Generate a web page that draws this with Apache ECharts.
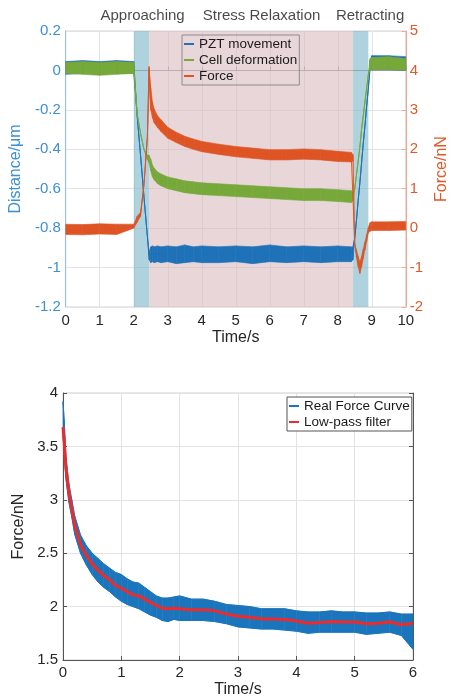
<!DOCTYPE html>
<html><head><meta charset="utf-8">
<script src="https://cdn.jsdelivr.net/npm/echarts@6/dist/echarts.min.js"></script>
<style>html,body{margin:0;padding:0;background:#fff}#c{width:458px;height:699px}</style>
</head><body><div id="c"></div>
<script>
// ---------- Top chart data ----------
const topTime = [0,0.5,1,1.5,2,2.1,2.2,2.3,2.4,2.45,2.5,2.55,2.6,2.7,2.8,3,3.25,3.5,3.75,4,4.5,5,5.5,6,6.5,7,7.5,8,8.4,8.45,8.5,8.55,8.6,8.65,8.7,8.75,8.8,8.85,8.9,8.95,9,9.5,10];
const pztMean = [0.015,0.02,0.015,0.02,0.02,-0.23,-0.43,-0.64,-0.84,-0.94,-0.93,-0.93,-0.93,-0.93,-0.935,-0.93,-0.935,-0.93,-0.935,-0.93,-0.935,-0.93,-0.935,-0.93,-0.935,-0.93,-0.93,-0.935,-0.93,-0.93,-0.85,-0.76,-0.66,-0.57,-0.47,-0.37,-0.28,-0.18,-0.09,0.02,0.04,0.04,0.035];
const pztLow  = [-0.02,-0.015,-0.02,-0.015,-0.015,-0.23,-0.43,-0.64,-0.84,-0.96,-0.975,-0.97,-0.975,-0.97,-0.975,-0.97,-0.98,-0.975,-0.97,-0.975,-0.975,-0.97,-0.98,-0.97,-0.975,-0.97,-0.975,-0.97,-0.97,-0.96,-0.85,-0.76,-0.66,-0.57,-0.47,-0.37,-0.28,-0.18,-0.09,0.0,0.005,0.005,0.0];
const pztHigh = [0.045,0.05,0.045,0.05,0.045,-0.23,-0.43,-0.64,-0.84,-0.92,-0.895,-0.89,-0.895,-0.89,-0.895,-0.89,-0.895,-0.885,-0.895,-0.89,-0.895,-0.89,-0.895,-0.885,-0.895,-0.89,-0.895,-0.89,-0.895,-0.9,-0.85,-0.76,-0.66,-0.57,-0.47,-0.37,-0.28,-0.18,-0.09,0.05,0.075,0.075,0.07];
const cellMean = [0.015,0.015,0.01,0.015,0.015,-0.22,-0.32,-0.4,-0.44,-0.45,-0.48,-0.51,-0.525,-0.545,-0.555,-0.57,-0.58,-0.59,-0.595,-0.6,-0.605,-0.61,-0.615,-0.62,-0.625,-0.63,-0.63,-0.635,-0.64,-0.64,-0.6,-0.53,-0.46,-0.39,-0.3,-0.23,-0.16,-0.09,-0.02,0.03,0.035,0.035,0.03];
const cellLow  = [-0.015,-0.02,-0.025,-0.02,-0.015,-0.22,-0.32,-0.4,-0.45,-0.47,-0.51,-0.54,-0.555,-0.575,-0.585,-0.6,-0.61,-0.62,-0.625,-0.63,-0.635,-0.64,-0.645,-0.65,-0.655,-0.66,-0.66,-0.665,-0.67,-0.66,-0.6,-0.53,-0.46,-0.39,-0.3,-0.23,-0.16,-0.09,-0.02,0.0,0.005,0.005,0.0];
const cellHigh = [0.04,0.045,0.04,0.045,0.04,-0.22,-0.32,-0.4,-0.43,-0.43,-0.45,-0.48,-0.495,-0.515,-0.525,-0.54,-0.55,-0.56,-0.565,-0.57,-0.575,-0.58,-0.585,-0.59,-0.595,-0.6,-0.6,-0.605,-0.61,-0.62,-0.6,-0.53,-0.46,-0.39,-0.3,-0.23,-0.16,-0.09,-0.02,0.06,0.065,0.07,0.06];
const forceMean = [-0.03,-0.04,-0.02,-0.03,0.05,0.22,0.35,1.1,2.3,4.05,3.3,3.0,2.85,2.7,2.6,2.42,2.3,2.2,2.13,2.07,2.0,1.94,1.9,1.86,1.86,1.88,1.86,1.82,1.8,1.78,-0.4,-0.65,-0.85,-1.0,-0.85,-0.65,-0.45,-0.25,-0.05,0.03,0.05,0.05,0.06];
const forceLow  = [-0.16,-0.17,-0.15,-0.16,0.0,0.15,0.3,1.1,2.3,3.6,3.0,2.8,2.67,2.55,2.45,2.28,2.17,2.07,2.0,1.94,1.87,1.81,1.77,1.73,1.73,1.75,1.73,1.69,1.68,1.7,-0.4,-0.75,-0.98,-1.15,-0.98,-0.77,-0.55,-0.33,-0.12,-0.08,-0.06,-0.06,-0.05];
const forceHigh = [0.1,0.09,0.11,0.1,0.1,0.3,0.4,1.1,2.3,4.1,3.55,3.2,3.02,2.85,2.75,2.56,2.43,2.33,2.26,2.2,2.13,2.07,2.03,1.99,1.99,2.01,1.99,1.95,1.92,1.86,-0.4,-0.55,-0.72,-0.85,-0.72,-0.53,-0.35,-0.17,0.02,0.14,0.16,0.16,0.17];
const phaseNames = ['Approaching','Stress Relaxation','Retracting'];
const phaseStart = [2, 2.45, 8.45];
const phaseEnd   = [2.45, 8.45, 8.9];
const phaseLabelTime = [2.26, 5.76, 8.95];
const topLegend = ['PZT movement','Cell deformation','Force'];

// ---------- Bottom chart data ----------
const bottomTime = [0,0.02,0.05,0.1,0.15,0.2,0.3,0.4,0.5,0.6,0.7,0.8,0.9,1.0,1.1,1.2,1.3,1.4,1.5,1.6,1.7,1.8,1.9,2.0,2.2,2.4,2.6,2.8,3.0,3.2,3.4,3.6,3.8,4.0,4.2,4.4,4.6,4.8,5.0,5.2,5.4,5.6,5.8,6.0];
const filterForce = [3.68,3.55,3.3,3.07,2.92,2.76,2.58,2.48,2.4,2.34,2.29,2.25,2.2,2.17,2.14,2.11,2.1,2.07,2.04,2.01,1.985,1.98,1.985,1.98,1.97,1.97,1.96,1.93,1.91,1.9,1.885,1.885,1.88,1.865,1.845,1.85,1.86,1.855,1.855,1.84,1.845,1.855,1.83,1.845];
const realLow  = [3.6,3.45,3.2,2.98,2.84,2.68,2.5,2.39,2.3,2.23,2.18,2.14,2.09,2.05,2.02,2.0,1.98,1.95,1.92,1.9,1.87,1.86,1.88,1.87,1.87,1.87,1.86,1.84,1.81,1.8,1.79,1.79,1.78,1.77,1.75,1.76,1.76,1.76,1.76,1.74,1.75,1.76,1.73,1.6];
const realHigh = [3.92,3.75,3.4,3.15,3.0,2.85,2.67,2.57,2.5,2.45,2.4,2.36,2.32,2.3,2.26,2.23,2.22,2.18,2.14,2.1,2.08,2.08,2.09,2.1,2.07,2.07,2.05,2.02,2.01,2.0,1.98,1.98,1.98,1.96,1.95,1.95,1.96,1.95,1.95,1.94,1.94,1.95,1.93,1.93];
const bottomLegend = ['Real Force Curve','Low-pass filter'];

// ---------- helpers ----------
const FONT = '"Liberation Sans", Arial, Helvetica, sans-serif';
const C_PZT = '#1f72b8', C_CELL = '#77a83a', C_FORCE = '#de5424';
const C_REAL = '#1b75bc', C_FILT = '#ee2a2a';
const C_LEFT = '#3d8fd4', C_RIGHT = '#dd5a2a';
function pairs(t, v){ return t.map((x,i)=>[x, v[i]]); }
// noise envelope drawn as a filled band between low and high values
function band(t, lo, hi, color, xi, yi, z){
  return {
    type:'custom', xAxisIndex:xi, yAxisIndex:yi, z:z, silent:true,
    data:t.map((x,i)=>[x, lo[i], hi[i]]),
    encode:{x:0, y:[1,2]},
    renderItem:function(params, api){
      const i = params.dataIndexInside;
      if (i === 0) return null;
      const pts = [
        api.coord([api.value(0,i-1), api.value(1,i-1)]),
        api.coord([api.value(0,i),   api.value(1,i)]),
        api.coord([api.value(0,i),   api.value(2,i)]),
        api.coord([api.value(0,i-1), api.value(2,i-1)])
      ];
      return {type:'polygon', shape:{points:pts}, style:{fill:color, stroke:color, lineWidth:0.6}};
    }
  };
}
const phaseColors = ['rgba(120,182,202,0.6)','rgba(218,187,190,0.6)','rgba(120,182,202,0.6)'];
const markAreaData = phaseNames.map((n,i)=>[
  {xAxis:phaseStart[i], itemStyle:{color:phaseColors[i]}},
  {xAxis:phaseEnd[i]}
]);

const gridLine = {lineStyle:{color:'#e3e3e3', width:1}};
const series = [];
// top chart
series.push(band(topTime, pztLow, pztHigh, C_PZT, 0, 0, 3));
series.push({type:'line', name:topLegend[0], xAxisIndex:0, yAxisIndex:0, data:pairs(topTime,pztMean), symbol:'none',
  lineStyle:{color:C_PZT,width:1}, itemStyle:{color:C_PZT}, z:3,
  markArea:{silent:true, label:{show:false}, data:markAreaData}});
series.push(band(topTime, cellLow, cellHigh, C_CELL, 0, 0, 4));
series.push({type:'line', name:topLegend[1], xAxisIndex:0, yAxisIndex:0, data:pairs(topTime,cellMean), symbol:'none',
  lineStyle:{color:C_CELL,width:1}, itemStyle:{color:C_CELL}, z:4});
series.push(band(topTime, forceLow, forceHigh, C_FORCE, 0, 1, 5));
series.push({type:'line', name:topLegend[2], xAxisIndex:0, yAxisIndex:1, data:pairs(topTime,forceMean), symbol:'none',
  lineStyle:{color:C_FORCE,width:1}, itemStyle:{color:C_FORCE}, z:5});
// phase titles above the plot
series.push({type:'scatter', xAxisIndex:0, yAxisIndex:0, symbol:'circle', symbolSize:1, silent:true, clip:false, z:6,
  itemStyle:{color:'rgba(0,0,0,0)'},
  data:phaseNames.map((n,i)=>({name:n, value:[phaseLabelTime[i], 0.2]})),
  label:{show:true, position:'top', distance:7, formatter:'{b}', fontSize:15, color:'#1a1a1a', fontFamily:FONT}});
// bottom chart
series.push(band(bottomTime, realLow, realHigh, C_REAL, 1, 2, 3));
series.push({type:'line', name:bottomLegend[0], xAxisIndex:1, yAxisIndex:2, data:pairs(bottomTime,realHigh), symbol:'none',
  lineStyle:{color:C_REAL,width:1}, itemStyle:{color:C_REAL}, z:3});
series.push({type:'line', name:bottomLegend[0], xAxisIndex:1, yAxisIndex:2, data:pairs(bottomTime,realLow), symbol:'none',
  lineStyle:{color:C_REAL,width:1}, itemStyle:{color:C_REAL}, z:3});
series.push({type:'line', name:bottomLegend[1], xAxisIndex:1, yAxisIndex:2, data:pairs(bottomTime,filterForce), symbol:'none',
  lineStyle:{color:C_FILT,width:3}, itemStyle:{color:C_FILT}, z:6});

const option = {
  animation:false,
  backgroundColor:'#fff',
  textStyle:{fontFamily:FONT},
  grid:[
    {left:63, right:41, top:31, height:276, show:true, borderColor:'#d5d5d5', borderWidth:1, backgroundColor:'transparent'},
    {left:63, right:45, top:393, height:269, show:true, borderColor:'#cfcfcf', borderWidth:1, backgroundColor:'transparent'}
  ],
  xAxis:[
    {gridIndex:0, type:'value', min:0, max:10, interval:1, name:'Time/s', nameLocation:'middle', nameGap:23,
     nameTextStyle:{fontSize:16, color:'#262626', fontFamily:FONT},
     axisLine:{lineStyle:{color:'#9a9a9a'}}, axisTick:{inside:true, length:4, lineStyle:{color:'#9a9a9a'}},
     axisLabel:{fontSize:15, color:'#262626', margin:6, fontFamily:FONT}, splitLine:gridLine},
    {gridIndex:1, type:'value', min:0, max:6, interval:1, name:'Time/s', nameLocation:'middle', nameGap:22,
     nameTextStyle:{fontSize:16, color:'#262626', fontFamily:FONT},
     axisLine:{lineStyle:{color:'#555'}}, axisTick:{inside:true, length:4, lineStyle:{color:'#555'}},
     axisLabel:{fontSize:15, color:'#262626', margin:5, fontFamily:FONT}, splitLine:gridLine}
  ],
  yAxis:[
    {gridIndex:0, type:'value', position:'left', min:-1.2, max:0.2, interval:0.2, name:'Distance/μm', nameLocation:'middle', nameGap:35, nameRotate:90,
     nameTextStyle:{fontSize:16, color:C_LEFT, fontFamily:FONT},
     axisLine:{show:true, lineStyle:{color:'#8fc0e8'}}, axisTick:{show:false},
     axisLabel:{fontSize:15, color:C_LEFT, margin:5, fontFamily:FONT}, splitLine:gridLine},
    {gridIndex:0, type:'value', position:'right', min:-2, max:5, interval:1, name:'Force/nN', nameLocation:'middle', nameGap:22, nameRotate:90,
     nameTextStyle:{fontSize:16, color:C_RIGHT, fontFamily:FONT},
     axisLine:{show:true, lineStyle:{color:'#eba88c'}}, axisTick:{show:true, inside:true, length:4, lineStyle:{color:'#eba88c'}},
     axisLabel:{fontSize:15, color:C_RIGHT, margin:4, fontFamily:FONT}, splitLine:{show:false}},
    {gridIndex:1, type:'value', position:'left', min:1.5, max:4, interval:0.5, name:'Force/nN', nameLocation:'middle', nameGap:27, nameRotate:90,
     nameTextStyle:{fontSize:16, color:'#262626', fontFamily:FONT},
     axisLine:{show:true, lineStyle:{color:'#555'}}, axisTick:{show:true, inside:true, length:4, lineStyle:{color:'#555'}},
     axisLabel:{fontSize:15, color:'#262626', margin:5, fontFamily:FONT}, splitLine:gridLine},
    {gridIndex:1, type:'value', position:'right', min:1.5, max:4, interval:0.5,
     axisLine:{show:true, lineStyle:{color:'#555'}}, axisTick:{show:true, inside:true, length:4, lineStyle:{color:'#555'}},
     axisLabel:{show:false}, splitLine:{show:false}}
  ],
  legend:[
    {data:topLegend, orient:'vertical', left:182, top:35, padding:[1,2,1,1], itemGap:0, itemWidth:10, itemHeight:14,
     borderColor:'#8c8c8c', borderWidth:1, backgroundColor:'transparent', selectedMode:false,
     itemStyle:{opacity:0}, textStyle:{fontSize:13.5, color:'#1a1a1a', lineHeight:16, fontFamily:FONT}},
    {data:bottomLegend, orient:'vertical', left:287, top:397, padding:[1,2,1,1], itemGap:0, itemWidth:10, itemHeight:14,
     borderColor:'#555', borderWidth:1, backgroundColor:'#fff', selectedMode:false,
     itemStyle:{opacity:0}, textStyle:{fontSize:13.5, color:'#1a1a1a', lineHeight:16, fontFamily:FONT}}
  ],
  series:series
};
const chart = echarts.init(document.getElementById('c'), null, {renderer:'canvas'});
chart.setOption(option);
</script>
</body></html>
